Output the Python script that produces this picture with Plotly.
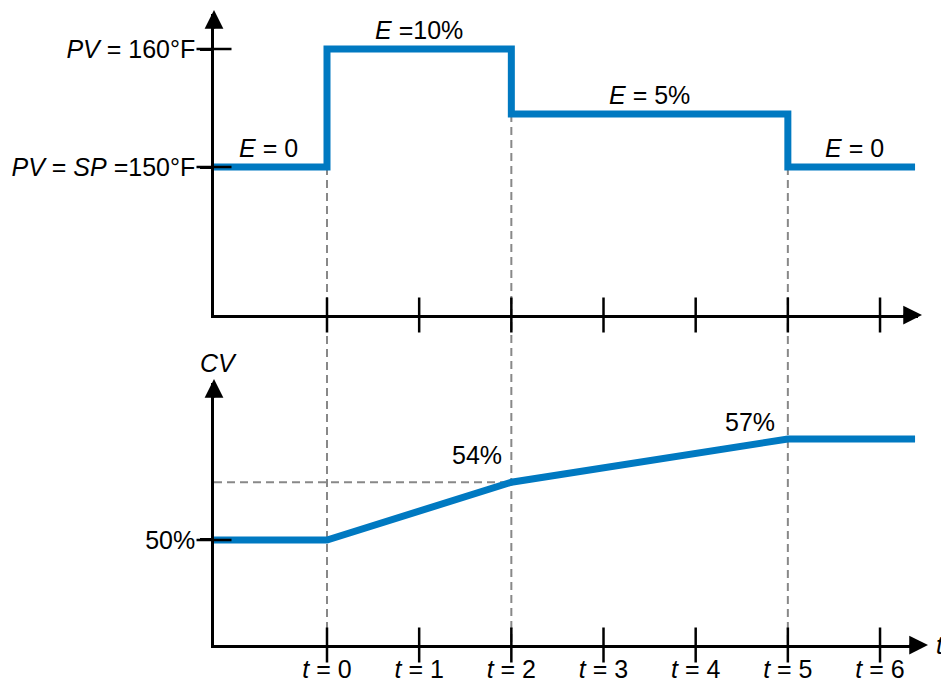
import plotly.graph_objects as go

# ---------------- data ----------------
t_ticks = [0, 1, 2, 3, 4, 5, 6]
t_tick_text = ["<i>t</i> = 0", "<i>t</i> = 1", "<i>t</i> = 2", "<i>t</i> = 3",
               "<i>t</i> = 4", "<i>t</i> = 5", "<i>t</i> = 6"]

t_pv = [-1.226, 0, 2, 5, 6.38]
pv_values = [150, 160, 154.5, 150, 150]
pv_tick_vals = [150, 160]
pv_tick_text = ["<i>PV</i> = <i>SP</i> =150°F", "<i>PV</i> = 160°F"]

t_cv = [-1.226, 0, 2, 5, 6.38]
cv_values = [50, 50, 54, 57, 57]
cv_tick_vals = [50]
cv_tick_text = ["50%"]

step_times = [0, 2, 5]          # where dashed guides are drawn
error_labels = ["<i>E</i> = 0", "<i>E</i> =10%", "<i>E</i> = 5%", "<i>E</i> = 0"]
error_label_t = [-0.63, 1.0, 3.5, 5.72]
error_label_pv = [150, 160, 154.5, 150]
cv_labels = ["54%", "57%"]
cv_label_t = [1.63, 4.59]
cv_label_v = [54, 57]

# ---------------- layout constants ----------------
W, H = 949, 679
PAGE_OFF = 8  # default body margin of the html page
BLUE = "#0079C1"
GRAY = "#888888"
FONT = "Liberation Sans, Arial, sans-serif"
FS = 25


def px_x(px):
    return (px - PAGE_OFF) / W


def px_y(py):
    return 1 - (py - PAGE_OFF) / H


X_RANGE = [-1.226, 6.412]
X_DOM = [px_x(214), px_x(918)]
TOP_DOM = [px_y(315), px_y(14)]
BOT_DOM = [px_y(645), px_y(383)]
TOP_RANGE = [137.46, 162.97]
BOT_RANGE = [42.72, 60.88]


def top_to_paper(v):
    return TOP_DOM[0] + (v - TOP_RANGE[0]) / (TOP_RANGE[1] - TOP_RANGE[0]) * (TOP_DOM[1] - TOP_DOM[0])


fig = go.Figure()

# PV step line
fig.add_trace(go.Scatter(x=t_pv, y=pv_values, mode="lines", line=dict(color=BLUE, width=7, shape="hv"),
                         xaxis="x", yaxis="y", hoverinfo="skip"))
# 54% guide and CV ramp
fig.add_trace(go.Scatter(x=[X_RANGE[0], 2], y=[54, 54], mode="lines",
                         line=dict(color=GRAY, width=2, dash="8px,5px"),
                         xaxis="x2", yaxis="y2", hoverinfo="skip"))
fig.add_trace(go.Scatter(x=t_cv, y=cv_values, mode="lines", line=dict(color=BLUE, width=7),
                         xaxis="x2", yaxis="y2", hoverinfo="skip"))

# crossing tick marks
tick_marker = dict(symbol="line-ns", size=25, line=dict(color="black", width=2.5))
fig.add_trace(go.Scatter(x=t_ticks, y=[TOP_RANGE[0]] * len(t_ticks), mode="markers", marker=tick_marker,
                         cliponaxis=False, xaxis="x", yaxis="y", hoverinfo="skip"))
fig.add_trace(go.Scatter(x=t_ticks, y=[BOT_RANGE[0]] * len(t_ticks), mode="markers", marker=tick_marker,
                         cliponaxis=False, xaxis="x2", yaxis="y2", hoverinfo="skip"))
ytick_marker = dict(symbol="line-ew", size=25, line=dict(color="black", width=2.5))
fig.add_trace(go.Scatter(x=[X_RANGE[0]] * len(pv_tick_vals), y=pv_tick_vals, mode="markers",
                         marker=ytick_marker, cliponaxis=False, xaxis="x", yaxis="y", hoverinfo="skip"))
fig.add_trace(go.Scatter(x=[X_RANGE[0]] * len(cv_tick_vals), y=cv_tick_vals, mode="markers",
                         marker=ytick_marker, cliponaxis=False, xaxis="x2", yaxis="y2", hoverinfo="skip"))

# vertical dashed guides from the PV line down to the CV time axis
shapes = []
for ts in step_times:
    before = [v for tt, v in zip(t_pv, pv_values) if tt < ts][-1]
    after = [v for tt, v in zip(t_pv, pv_values) if tt <= ts][-1]
    low = min(before, after)
    shapes.append(dict(type="line", xref="x2", yref="paper", x0=ts, x1=ts,
                       y0=top_to_paper(low), y1=BOT_DOM[0], layer="below",
                       line=dict(color=GRAY, width=2, dash="8px,5px")))

annotations = []
for txt, tt, v in zip(error_labels, error_label_t, error_label_pv):
    annotations.append(dict(x=tt, y=v, xref="x", yref="y", text=txt, showarrow=False,
                            xanchor="center", yanchor="middle", yshift=19,
                            font=dict(size=FS, color="black", family=FONT)))
for txt, tt, v, ys in zip(cv_labels, cv_label_t, cv_label_v, [27, 17]):
    annotations.append(dict(x=tt, y=v, xref="x2", yref="y2", text=txt, showarrow=False,
                            xanchor="center", yanchor="middle", yshift=ys,
                            font=dict(size=FS, color="black", family=FONT)))
annotations.append(dict(x=0.006, y=1.076, xref="x2 domain", yref="y2 domain", text="<i>CV</i>",
                        xanchor="center", yanchor="middle",
                        showarrow=False, font=dict(size=FS, color="black", family=FONT)))
annotations.append(dict(x=(940 - 214) / 704, y=0.0, xref="x2 domain", yref="y2 domain", text="<i>t</i>",
                        xanchor="center", yanchor="middle",
                        showarrow=False, font=dict(size=FS, color="black", family=FONT)))

# arrow heads on axes
arrow_common = dict(showarrow=True, arrowhead=2, arrowsize=1.5, arrowwidth=2.5, arrowcolor="black",
                    text="", axref="pixel", ayref="pixel", standoff=0)
annotations.append(dict(xref="x domain", yref="y domain", x=(922 - 214) / 704, y=0, ax=-20, ay=0, **arrow_common))
annotations.append(dict(xref="x2 domain", yref="y2 domain", x=(928 - 214) / 704, y=0, ax=-20, ay=0, **arrow_common))
annotations.append(dict(xref="x domain", yref="y domain", x=0, y=(315 - 10) / 301, ax=0, ay=20, **arrow_common))
annotations.append(dict(xref="x2 domain", yref="y2 domain", x=0, y=(645 - 379) / 262, ax=0, ay=20, **arrow_common))

axis_common = dict(showgrid=False, zeroline=False, showline=True, linecolor="black", linewidth=2.5,
                   tickfont=dict(size=FS, color="black", family=FONT),
                   tickcolor="black", tickwidth=2.5, automargin=False)

fig.update_layout(
    template="none",
    width=W, height=H,
    margin=dict(l=0, r=0, t=0, b=0, autoexpand=False),
    paper_bgcolor="white", plot_bgcolor="rgba(0,0,0,0)",
    showlegend=False,
    font=dict(family=FONT, size=FS, color="black"),
    xaxis=dict(domain=X_DOM, range=X_RANGE, anchor="y", showticklabels=False,
               tickvals=t_ticks, ticks="", **axis_common),
    yaxis=dict(domain=TOP_DOM, range=TOP_RANGE, anchor="x", tickvals=pv_tick_vals,
               ticktext=pv_tick_text, ticks="outside", ticklen=11, **axis_common),
    xaxis2=dict(domain=X_DOM, range=X_RANGE, anchor="y2", tickvals=t_ticks, ticktext=t_tick_text,
                ticks="", **axis_common),
    yaxis2=dict(domain=BOT_DOM, range=BOT_RANGE, anchor="x2", tickvals=cv_tick_vals,
                ticktext=cv_tick_text, ticks="outside", ticklen=11, **axis_common),
    shapes=shapes,
    annotations=annotations,
)

fig.write_html("out.html")
